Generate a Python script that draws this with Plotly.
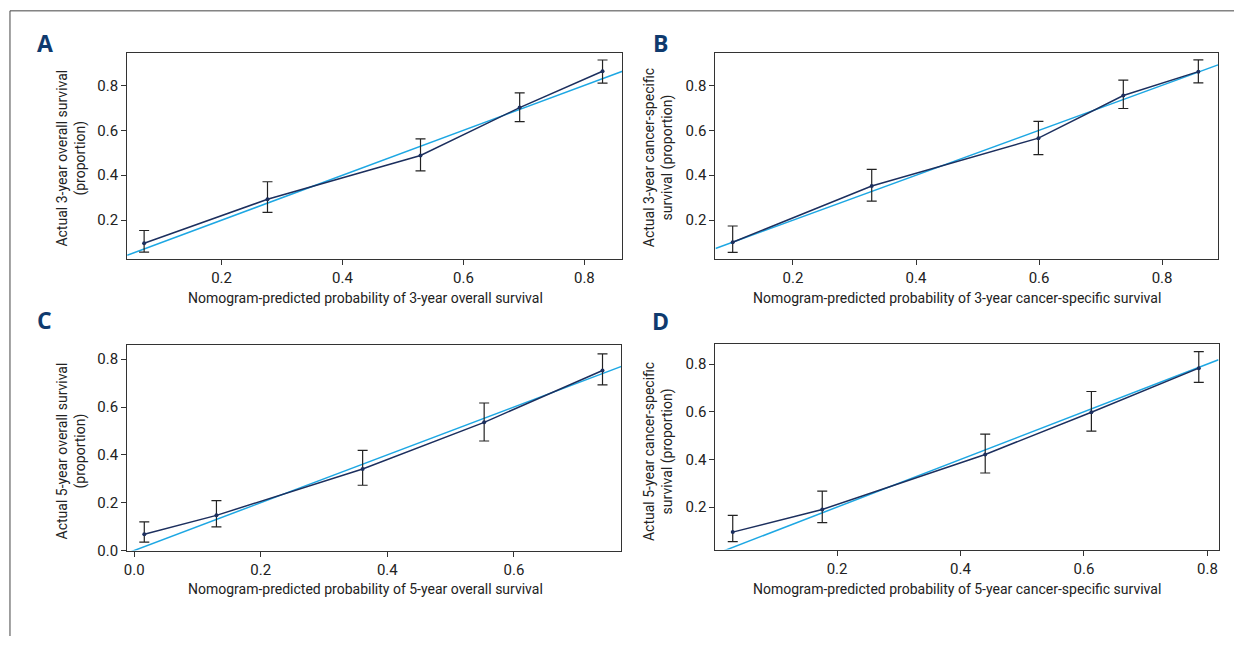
import plotly.graph_objects as go

W, H = 1234, 645

# ---- data ----
a_pred = [0.072, 0.276, 0.529, 0.693, 0.830]
a_obs = [0.097, 0.293, 0.488, 0.701, 0.863]
a_lo = [0.058, 0.235, 0.419, 0.639, 0.810]
a_hi = [0.154, 0.371, 0.562, 0.767, 0.913]

b_pred = [0.102, 0.328, 0.599, 0.737, 0.859]
b_obs = [0.102, 0.352, 0.565, 0.755, 0.861]
b_lo = [0.057, 0.285, 0.492, 0.697, 0.811]
b_hi = [0.174, 0.426, 0.640, 0.823, 0.913]

c_pred = [0.016, 0.130, 0.361, 0.553, 0.740]
c_obs = [0.068, 0.147, 0.341, 0.536, 0.753]
c_lo = [0.035, 0.099, 0.273, 0.458, 0.693]
c_hi = [0.120, 0.209, 0.419, 0.617, 0.822]

d_pred = [0.031, 0.176, 0.440, 0.612, 0.786]
d_obs = [0.095, 0.190, 0.421, 0.598, 0.783]
d_lo = [0.055, 0.135, 0.343, 0.519, 0.723]
d_hi = [0.165, 0.267, 0.506, 0.685, 0.852]

panel_letters = ["A", "B", "C", "D"]
x_titles = [
    "Nomogram-predicted probability of 3-year overall survival",
    "Nomogram-predicted probability of 3-year cancer-specific survival",
    "Nomogram-predicted probability of 5-year overall survival",
    "Nomogram-predicted probability of 5-year cancer-specific survival",
]
y_titles = [
    "Actual 3-year overall survival<br>(proportion)",
    "Actual 3-year cancer-specific<br>survival (proportion)",
    "Actual 5-year overall survival<br>(proportion)",
    "Actual 5-year cancer-specific<br>survival (proportion)",
]
x_ranges = [[0.044, 0.863], [0.074, 0.891], [-0.011, 0.770], [0.003, 0.818]]
y_ranges = [[0.027, 0.943], [0.027, 0.946], [0.0, 0.859], [0.022, 0.885]]
x_ticks = [[0.2, 0.4, 0.6, 0.8], [0.2, 0.4, 0.6, 0.8], [0.0, 0.2, 0.4, 0.6], [0.2, 0.4, 0.6, 0.8]]
y_ticks = [[0.2, 0.4, 0.6, 0.8], [0.2, 0.4, 0.6, 0.8], [0.0, 0.2, 0.4, 0.6, 0.8], [0.2, 0.4, 0.6, 0.8]]

panels = [
    (a_pred, a_obs, a_lo, a_hi),
    (b_pred, b_obs, b_lo, b_hi),
    (c_pred, c_obs, c_lo, c_hi),
    (d_pred, d_obs, d_lo, d_hi),
]

# ---- layout geometry (pixels) ----
boxes = [  # x0, x1, ytop, ybottom
    (124.5, 621, 54, 262.7),
    (714.2, 1218, 53.3, 262.7),
    (124.5, 620, 350, 558.3),
    (714.2, 1218.5, 348.7, 557.3),
]
letter_pos = [(42, 44), (659, 44), (42, 325), (659, 326)]
ytitle_pos = [(69, 160), (657, 160), (69, 457), (657, 458)]
xtitle_pos = [(363, 302), (956, 302), (363, 597), (956, 597)]

NAVY = "#1c2f5e"
BLUE = "#1da7e3"
FONT = "Roboto, Liberation Sans, sans-serif"

fig = go.Figure()


def px(x):
    return x / W


def py(y):
    return 1 - y / H


annotations = []
for i, (pred, obs, lo, hi) in enumerate(panels):
    n = i + 1
    xa = "x" if n == 1 else f"x{n}"
    ya = "y" if n == 1 else f"y{n}"
    # ideal reference line y = x across the axis range
    fig.add_trace(go.Scatter(
        x=[x_ranges[i][0], x_ranges[i][1]], y=[x_ranges[i][0], x_ranges[i][1]],
        mode="lines", line=dict(color=BLUE, width=1.5),
        xaxis=xa, yaxis=ya, showlegend=False, hoverinfo="skip", cliponaxis=True))
    fig.add_trace(go.Scatter(
        x=pred, y=obs, mode="lines+markers",
        line=dict(color=NAVY, width=1.5),
        marker=dict(color=NAVY, size=4),
        error_y=dict(type="data", symmetric=False,
                     array=[h - o for h, o in zip(hi, obs)],
                     arrayminus=[o - l for o, l in zip(obs, lo)],
                     color="#222222", thickness=1.2, width=5),
        xaxis=xa, yaxis=ya, showlegend=False))

    x0, x1, yt, yb = boxes[i]
    axis_common = dict(
        showline=True, mirror=True, linecolor="#333333", linewidth=1.2,
        showgrid=False, zeroline=False, ticks="outside", ticklen=5,
        tickcolor="#333333", tickfont=dict(family=FONT, size=15, color="#222222"),
    )
    fig.layout[f"xaxis{'' if n == 1 else n}"] = dict(
        domain=[px(x0), px(x1)], range=x_ranges[i], tickvals=x_ticks[i],
        tickformat=".1f", anchor=ya, **axis_common)
    fig.layout[f"yaxis{'' if n == 1 else n}"] = dict(
        domain=[py(yb), py(yt)], range=y_ranges[i], tickvals=y_ticks[i],
        tickformat=".1f", anchor=xa, **axis_common)

    lx, ly = letter_pos[i]
    annotations.append(dict(text=f"<b>{panel_letters[i]}</b>", x=px(lx), y=py(ly),
                            xref="paper", yref="paper", showarrow=False,
                            xanchor="center", yanchor="middle",
                            font=dict(family="Open Sans, Liberation Sans, sans-serif", size=23, color="#0f3a6e")))
    tx, ty = ytitle_pos[i]
    annotations.append(dict(text=y_titles[i], x=px(tx), y=py(ty), textangle=-90,
                            xref="paper", yref="paper", showarrow=False,
                            xanchor="center", yanchor="middle",
                            font=dict(family=FONT, size=14, color="#222222")))
    tx, ty = xtitle_pos[i]
    annotations.append(dict(text=x_titles[i], x=px(tx), y=py(ty),
                            xref="paper", yref="paper", showarrow=False,
                            xanchor="center", yanchor="middle",
                            font=dict(family=FONT, size=14, color="#222222")))

# outer frame: top and left border
shapes = [
    dict(type="line", xref="paper", yref="paper", x0=px(7), x1=1, y0=py(11), y1=py(11),
         line=dict(color="#444444", width=1)),
    dict(type="line", xref="paper", yref="paper", x0=px(7), x1=px(7), y0=0, y1=py(11),
         line=dict(color="#444444", width=1)),
]

fig.update_layout(
    width=W, height=H, margin=dict(l=0, r=0, t=0, b=0),
    paper_bgcolor="white", plot_bgcolor="white",
    annotations=annotations, shapes=shapes, showlegend=False,
)

fig.write_html(
    "out.html",
    config={"displayModeBar": False},
    post_script="document.body.style.margin='0';document.body.style.overflow='hidden';",
)
